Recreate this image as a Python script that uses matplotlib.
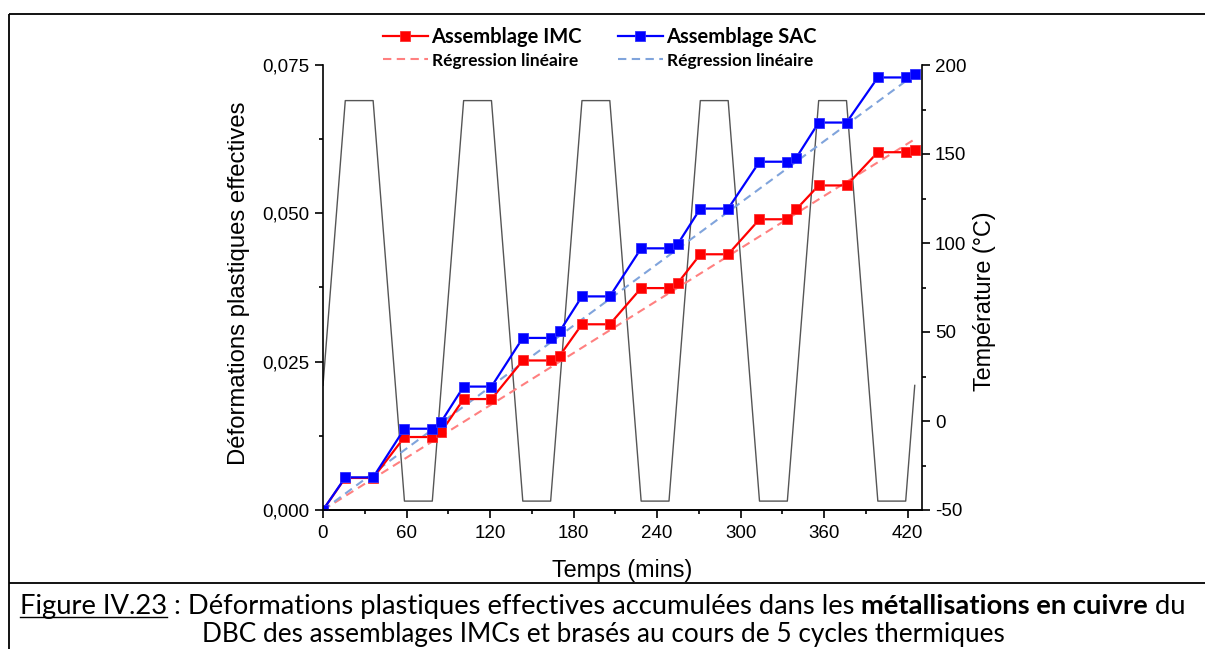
import matplotlib
matplotlib.use("Agg")
import matplotlib.pyplot as plt
from matplotlib.lines import Line2D
from matplotlib.ticker import MultipleLocator, FuncFormatter
import numpy as np

plt.rcParams['font.family'] = ['Liberation Sans', 'DejaVu Sans']
plt.rcParams['axes.unicode_minus'] = False

# ---------------- data ----------------
time_pts = [0, 16, 36, 58.5, 78.5, 85, 101, 121, 143.5, 163.5, 170, 186, 206,
            228.5, 248.5, 255, 271, 291, 313.5, 333.5, 340, 356, 376, 398.5, 418.5, 425]
sac_strain = [0, 0.0055, 0.0055, 0.0137, 0.0137, 0.0149, 0.0208, 0.0208, 0.0290, 0.0290,
              0.0301, 0.0360, 0.0360, 0.0441, 0.0441, 0.0449, 0.0508, 0.0508, 0.0587,
              0.0587, 0.0594, 0.0653, 0.0653, 0.0729, 0.0729, 0.0735]
imc_strain = [0, 0.0054, 0.0054, 0.0123, 0.0123, 0.0132, 0.0187, 0.0187, 0.0252, 0.0252,
              0.0260, 0.0313, 0.0313, 0.0374, 0.0374, 0.0383, 0.0431, 0.0431, 0.0490,
              0.0490, 0.0507, 0.0547, 0.0547, 0.0603, 0.0603, 0.0606]

fit_time = [0, 425]
imc_fit = [0, 0.0625]
sac_fit = [0, 0.0734]

temp_time = [0, 16, 36, 58.5, 78.5, 101, 121, 143.5, 163.5, 186, 206, 228.5, 248.5,
             271, 291, 313.5, 333.5, 356, 376, 398.5, 418.5, 425]
temp_vals = [20, 180, 180, -45, -45, 180, 180, -45, -45, 180, 180, -45, -45,
             180, 180, -45, -45, 180, 180, -45, -45, 20]

x_ticks = [0, 60, 120, 180, 240, 300, 360, 420]
y_ticks = [0.0, 0.025, 0.05, 0.075]
t_ticks = [-50, 0, 50, 100, 150, 200]

legend_labels = ["Assemblage IMC", "Régression linéaire", "Assemblage SAC", "Régression linéaire"]
xlabel = "Temps (mins)"
ylabel = "Déformations plastiques effectives"
y2label = "Température (°C)"

# ---------------- figure ----------------
W, H = 1205, 649
fig = plt.figure(figsize=(W / 100, H / 100), dpi=100)

def fx(px):
    return px / W

def fy(py):
    return 1 - py / H

ax = fig.add_axes([fx(323), fy(510), fx(921.7) - fx(323), fy(65) - fy(510)])
ax2 = ax.twinx()
ax.set_zorder(ax2.get_zorder() + 1)
ax.patch.set_visible(False)

ax2.plot(temp_time, temp_vals, color='#555555', lw=1.0)

red_fit, = ax.plot(fit_time, imc_fit, color='#FF8080', lw=1.5, dashes=(4, 2.6))
blue_fit, = ax.plot(fit_time, sac_fit, color='#80A4DC', lw=1.5, dashes=(4, 2.6))
red_line, = ax.plot(time_pts, imc_strain, color='#FF0000', lw=1.6, marker='s', ms=6.5,
                    mec='#FF3030', mew=0.6)
blue_line, = ax.plot(time_pts, sac_strain, color='#0000FF', lw=1.6, marker='s', ms=6.5,
                     mec='#3030FF', mew=0.6)

ax.set_xlim(0, 430)
ax.set_ylim(0, 0.075)
ax2.set_ylim(-50, 200)

ax.set_xticks(x_ticks)
ax.xaxis.set_minor_locator(MultipleLocator(30))
ax.set_yticks(y_ticks)
ax.yaxis.set_minor_locator(MultipleLocator(0.0125))
ax.yaxis.set_major_formatter(FuncFormatter(lambda v, p: f"{v:.3f}".replace('.', ',')))
ax2.set_yticks(t_ticks)
ax2.yaxis.set_minor_locator(MultipleLocator(25))

for a in (ax, ax2):
    a.spines['top'].set_visible(False)
    for s in a.spines.values():
        s.set_linewidth(1.2)
    a.tick_params(which='major', length=5.5, width=1.2, labelsize=13.5, direction='out')
    a.tick_params(which='minor', length=3.2, width=1.2, direction='out')
ax.spines['right'].set_visible(False)
ax2.spines['left'].set_visible(False)
ax.tick_params(axis='x', pad=5)
ax.tick_params(axis='y', pad=4)
ax2.tick_params(axis='y', pad=4)

ax.set_xlabel(xlabel, fontsize=16.8)
ax.xaxis.set_label_coords(0.5, -0.11)
ax.set_ylabel(ylabel, fontsize=17.2)
ax.yaxis.set_label_coords(-0.122, 0.51)
ax2.set_ylabel(y2label, fontsize=16.8)
ax2.yaxis.set_label_coords(1.086, 0.47)

# ---------------- legend ----------------
leg = ax.legend([red_line, red_fit, blue_line, blue_fit], legend_labels, ncol=2,
                loc='center', bbox_to_anchor=(fx(600), fy(48)), bbox_transform=fig.transFigure,
                frameon=False, fontsize=14, handlelength=2.3, handletextpad=0.2,
                columnspacing=1.85, labelspacing=0.28, borderpad=0, borderaxespad=0)
for i, t in enumerate(leg.get_texts()):
    t.set_family(['Lato', 'DejaVu Sans'])
    t.set_fontweight('bold')
    t.set_fontsize(14.5 if i % 2 == 0 else 12.5)

# ---------------- frame ----------------
frame_kw = dict(color='black', lw=1.3, transform=fig.transFigure, solid_capstyle='butt')
fig.add_artist(Line2D([fx(8.5), fx(8.5)], [fy(14), 0], **frame_kw))
fig.add_artist(Line2D([fx(8.5), 1], [fy(14), fy(14)], **frame_kw))
fig.add_artist(Line2D([fx(8.5), 1], [fy(582.7), fy(582.7)], **frame_kw))

# ---------------- caption ----------------
cap_font = ['Lato', 'DejaVu Sans']
line1 = [("Figure IV.23", 'normal', True),
         (" : Déformations plastiques effectives accumulées dans les ", 'normal', False),
         ("métallisations en cuivre", 'bold', False),
         (" du", 'normal', False)]
line2 = [("DBC des assemblages IMCs et brasés au cours de 5 cycles thermiques", 'normal', False)]

renderer = fig.canvas.get_renderer()

def rich_line(pieces, baseline_px, target_width_px, cx_px, size0=16):
    texts = []
    for s, w, u in pieces:
        texts.append((fig.text(0, 0, s, fontsize=size0, fontweight=w, family=cap_font,
                               va='baseline', ha='left'), u))
    widths = [t.get_window_extent(renderer).width for t, _ in texts]
    total = sum(widths)
    scale = target_width_px / total
    for t, _ in texts:
        t.set_fontsize(size0 * scale)
    widths = [t.get_window_extent(renderer).width for t, _ in texts]
    total = sum(widths)
    x = cx_px - total / 2
    for (t, u), w in zip(texts, widths):
        t.set_position((fx(x), fy(baseline_px)))
        if u:
            fig.add_artist(Line2D([fx(x), fx(x + w)], [fy(baseline_px + 3), fy(baseline_px + 3)],
                                  color='black', lw=1.0, transform=fig.transFigure))
        x += w
    return size0 * scale

sz = rich_line(line1, 614, 1171, 602.5)
rich_line(line2, 642, 802, 603, size0=sz)

fig.savefig("out.png", dpi=100)
